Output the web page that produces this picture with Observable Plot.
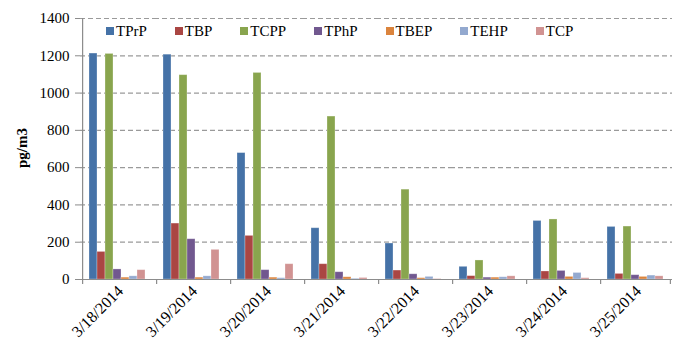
<!DOCTYPE html>
<html>
<head>
<meta charset="utf-8">
<script src="https://cdn.jsdelivr.net/npm/d3@7"></script>
<script src="https://cdn.jsdelivr.net/npm/@observablehq/plot@0.6"></script>
<style>
  html, body { margin: 0; padding: 0; background: #fff; }
  #wrap { position: relative; width: 686px; height: 356px; font-family: "Liberation Serif", "Times New Roman", serif; }
  #legend { position: absolute; top: 23px; left: 106px; display: flex; font-size: 15px; line-height: 16px; }
  #legend .item { display: flex; align-items: center; }
  #legend .sw { width: 8px; height: 8px; margin-right: 2px; }
  #ylab { position: absolute; left: 22px; top: 148px; transform: translate(-50%, -50%) rotate(-90deg); font-weight: bold; font-size: 15px; white-space: nowrap; }
</style>
</head>
<body>
<div id="wrap"></div>
<script>
const dates = ["3/18/2014", "3/19/2014", "3/20/2014", "3/21/2014", "3/22/2014", "3/23/2014", "3/24/2014", "3/25/2014"];
const series = ["TPrP", "TBP", "TCPP", "TPhP", "TBEP", "TEHP", "TCP"];
const colors = ["#4572A7", "#AA4643", "#89A54E", "#71588F", "#DB843D", "#93A9CF", "#D19392"];

const TPrP = [1212, 1206, 678, 275, 193, 68, 314, 282];
const TBP  = [148, 300, 234, 82, 48, 18, 43, 30];
const TCPP = [1210, 1096, 1108, 874, 482, 102, 322, 284];
const TPhP = [54, 216, 50, 39, 28, 10, 46, 23];
const TBEP = [10, 10, 10, 12, 7, 10, 14, 14];
const TEHP = [17, 17, 7, 4, 14, 12, 35, 21];
const TCP  = [50, 159, 82, 8, 2, 17, 7, 17];

const yTicks = [0, 200, 400, 600, 800, 1000, 1200, 1400];
const yLabel = "pg/m3";

const values = [TPrP, TBP, TCPP, TPhP, TBEP, TEHP, TCP];
const data = [];
series.forEach((s, i) => values[i].forEach((v, j) => data.push({date: dates[j], series: s, value: v})));

const W = 686, H = 356, mL = 80, mR = 14, mT = 18, mB = 77;
const po = 0.75;
const facetW = (W - mL - mR) / dates.length;
const bw = facetW / (series.length + 2 * po);
const off = po * bw + bw / 2;

const firsts = dates.map(d => ({date: d, series: series[0]}));
const lasts = [{date: dates[dates.length - 1], series: series[series.length - 1]}];

const chart = Plot.plot({
  width: W, height: H,
  marginLeft: mL, marginRight: mR, marginTop: mT, marginBottom: mB,
  style: {fontFamily: "'Liberation Serif', 'Times New Roman', serif", fontSize: "15px", color: "#000", background: "#fff"},
  fx: {domain: dates, padding: 0, label: null},
  x: {domain: series, paddingInner: 0, paddingOuter: po, axis: null},
  y: {domain: [0, 1400], axis: null},
  color: {domain: series, range: colors},
  marks: [
    Plot.ruleY(yTicks.filter(t => t > 0), {stroke: "#9a9a9a", strokeDasharray: "5,3", strokeWidth: 1.2}),
    Plot.barY(data, {fx: "date", x: "series", y: "value", fill: "series", stroke: "#fff", strokeOpacity: 0.35, strokeWidth: 0.8}),
    Plot.ruleY([0], {stroke: "#8c8c8c", strokeWidth: 1.2}),
    Plot.ruleX(firsts, {fx: "date", x: "series", y1: 0, y2: 0, insetBottom: -5, dx: -off, stroke: "#8c8c8c", strokeWidth: 1.2}),
    Plot.ruleX(lasts, {fx: "date", x: "series", y1: 0, y2: 0, insetBottom: -5, dx: off, stroke: "#8c8c8c", strokeWidth: 1.2}),
    Plot.ruleX([firsts[0]], {fx: "date", x: "series", y1: 0, y2: 1400, dx: -off, stroke: "#8c8c8c", strokeWidth: 1.2}),
    Plot.axisY({ticks: yTicks, tickFormat: d3.format("d"), tickSize: 5, tickPadding: 6, stroke: "#8c8c8c", fill: "#000", label: null}),
    Plot.axisFx({anchor: "bottom", tickSize: 0, tickRotate: -45, tickPadding: 9, dx: 3, label: null, fontSize: 16})
  ]
});

const wrap = document.getElementById("wrap");
wrap.appendChild(chart);

const legend = document.createElement("div");
legend.id = "legend";
series.forEach((s, i) => {
  const it = document.createElement("div");
  it.className = "item";
  it.style.marginRight = "28px";
  const sw = document.createElement("span");
  sw.className = "sw";
  sw.style.background = colors[i];
  const tx = document.createElement("span");
  tx.textContent = s;
  it.appendChild(sw); it.appendChild(tx);
  legend.appendChild(it);
});
wrap.appendChild(legend);

const yl = document.createElement("div");
yl.id = "ylab";
yl.textContent = yLabel;
wrap.appendChild(yl);
</script>
</body>
</html>
